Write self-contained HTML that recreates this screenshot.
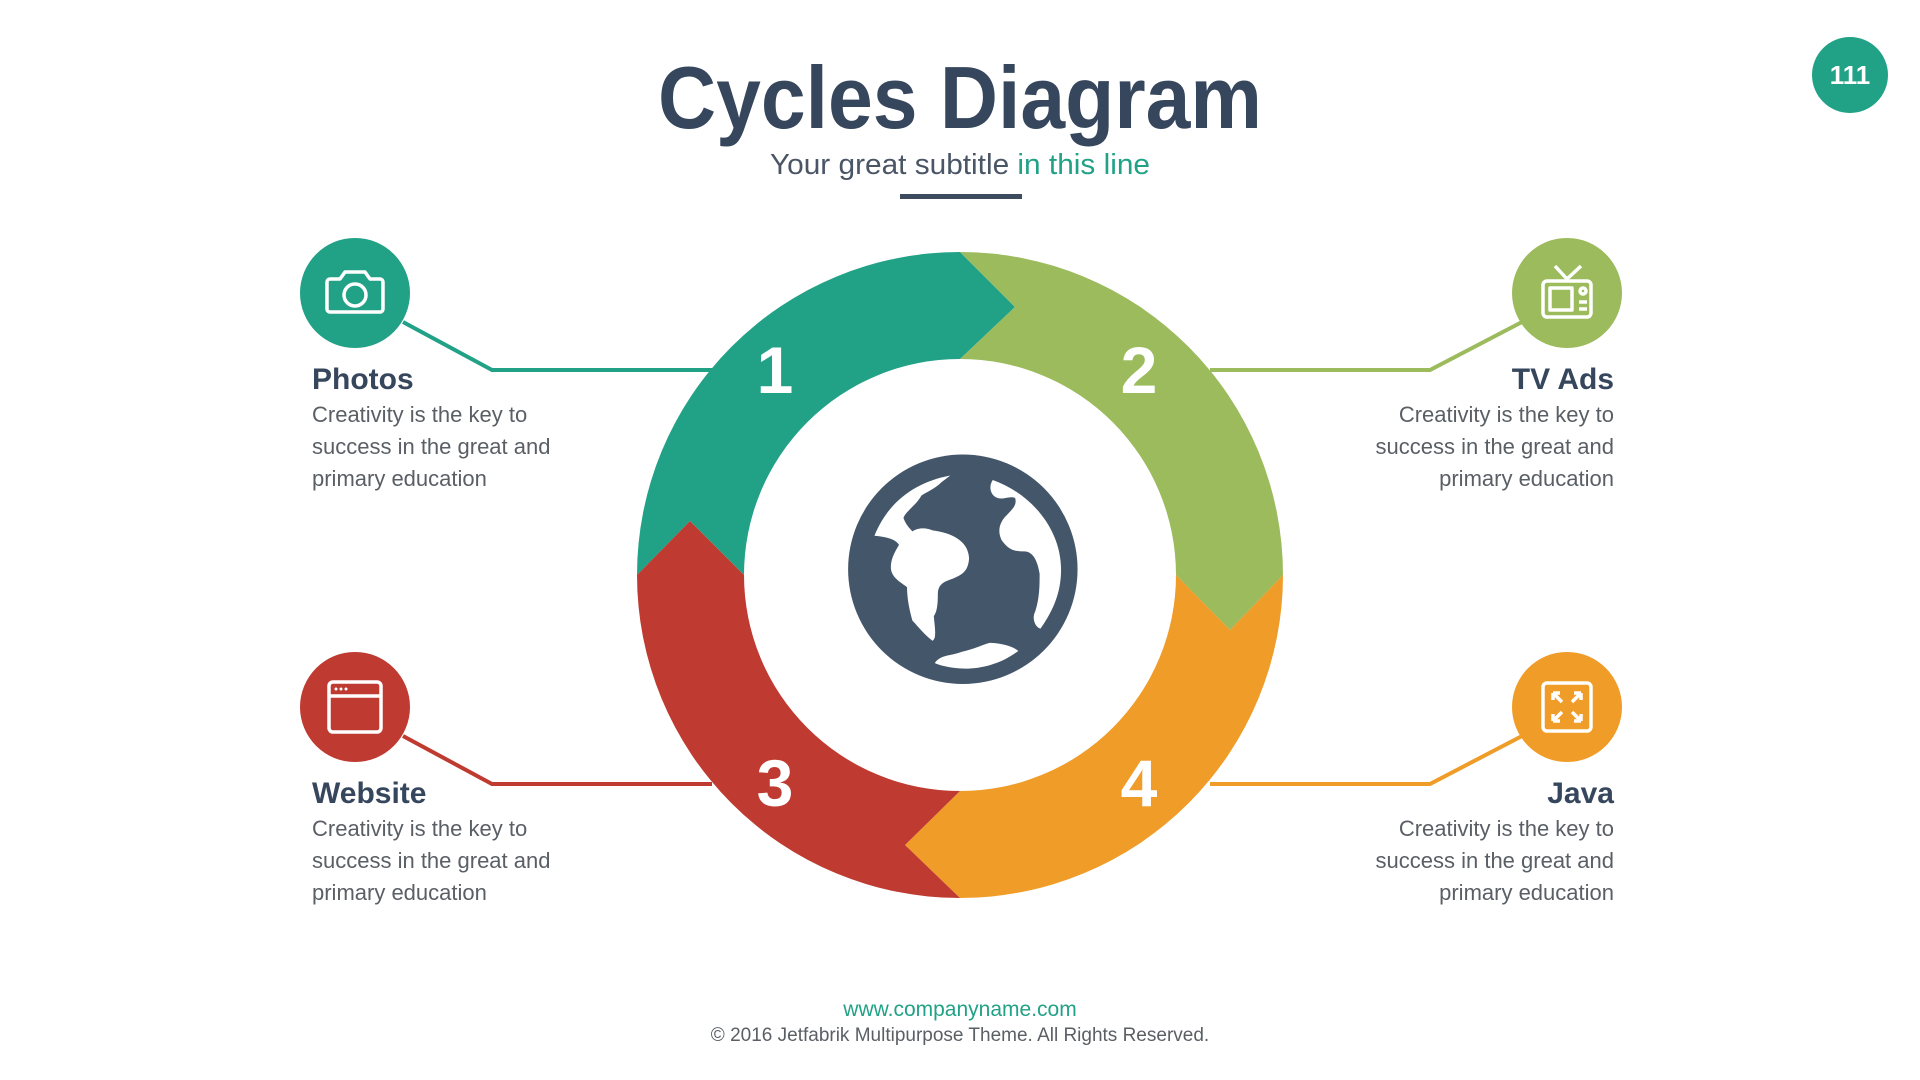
<!DOCTYPE html>
<html><head><meta charset="utf-8"><style>
html,body{margin:0;padding:0;background:#fff;width:1920px;height:1080px;overflow:hidden}
svg{display:block}
text{font-family:"Liberation Sans",sans-serif}
</style></head><body>
<svg width="1920" height="1080" viewBox="0 0 1920 1080" xmlns="http://www.w3.org/2000/svg">
<text x="960" y="128" text-anchor="middle" font-size="88" font-weight="bold" fill="#36465c" textLength="604" lengthAdjust="spacingAndGlyphs">Cycles Diagram</text>
<text x="960" y="174" text-anchor="middle" font-size="29" fill="#4a5566" textLength="380" lengthAdjust="spacingAndGlyphs">Your great subtitle <tspan fill="#21a286">in this line</tspan></text>
<rect x="900" y="194" width="122" height="5" fill="#3d4b5f"/>
<circle cx="1850" cy="75" r="38" fill="#21a286"/>
<text x="1850" y="84" text-anchor="middle" font-size="26" font-weight="bold" fill="#fff">111</text>

<g fill="none" stroke-width="4">
<polyline points="403,322 492,370 712,370" stroke="#21a286"/>
<polyline points="1210,370 1430,370 1522,322" stroke="#9bbb5c"/>
<polyline points="403,736 492,784 712,784" stroke="#bf3a30"/>
<polyline points="1210,784 1430,784 1522,736" stroke="#f09c28"/>
</g>

<path d="M637,575 A323,323 0 0 1 960,252 L1015,307 L960,359 A216,216 0 0 0 744,575 L690,521 Z" fill="#21a286"/>
<path d="M960,252 A323,323 0 0 1 1283,575 L1230,630 L1176,575 A216,216 0 0 0 960,359 L1015,307 Z" fill="#9bbb5c"/>
<path d="M1283,575 A323,323 0 0 1 960,898 L905,845 L960,791 A216,216 0 0 0 1176,575 L1230,630 Z" fill="#f09c28"/>
<path d="M960,898 A323,323 0 0 1 637,575 L690,521 L744,575 A216,216 0 0 0 960,791 L905,845 Z" fill="#bf3a30"/>
<g font-size="66" font-weight="bold" fill="#fff" text-anchor="middle">
<text x="775" y="393">1</text><text x="1139" y="393">2</text>
<text x="775" y="806">3</text><text x="1139" y="806">4</text>
</g>

<g transform="translate(620,230) scale(0.4464)">
<circle cx="768" cy="760" r="257" fill="#44566a"/>
<path fill="#fff" d="M570,685 C600,610 660,565 740,550 L720,565 C705,580 690,585 675,595 C665,615 640,630 635,645 C640,660 650,670 655,675 C670,665 690,668 700,673 C740,678 780,695 782,735 C780,770 760,775 735,785 C720,790 712,800 712,815 C712,840 710,855 703,865 C705,890 710,915 700,920 C685,910 665,885 655,875 C648,850 643,825 643,800 C630,790 610,780 607,760 C605,735 620,715 625,705 C615,690 590,687 570,685 Z"/>
<path fill="#fff" d="M835,560 C920,590 990,670 988,765 C987,820 965,860 942,893 C930,890 922,870 930,855 C940,825 940,795 940,770 C935,740 925,720 905,720 C880,720 870,715 855,695 C845,675 850,655 865,640 C880,625 890,615 885,600 C870,595 860,605 845,600 C830,595 825,575 835,560 Z"/>
<path fill="#fff" d="M705,970 C720,950 740,955 765,945 C790,940 810,930 828,925 C850,925 880,932 892,943 C850,975 800,985 760,982 C735,980 715,975 705,970 Z"/>
</g>

<circle cx="355" cy="293" r="55" fill="#21a286"/>
<circle cx="1567" cy="293" r="55" fill="#9bbb5c"/>
<circle cx="355" cy="707" r="55" fill="#bf3a30"/>
<circle cx="1567" cy="707" r="55" fill="#f09c28"/>
<g fill="none" stroke="#fff" stroke-width="3.5" stroke-linejoin="round">
<path d="M330,279 h10 l5,-7 h20 l5,7 h10 a3,3 0 0 1 3,3 v27 a3,3 0 0 1 -3,3 h-50 a3,3 0 0 1 -3,-3 v-27 a3,3 0 0 1 3,-3 z"/>
<circle cx="355" cy="295" r="11"/>
<rect x="1543" y="281" width="48" height="36" rx="4"/>
<rect x="1550" y="288" width="22" height="22"/>
<path d="M1555,266 l12,13 l14,-13"/>
<circle cx="1583" cy="291" r="3"/>
<path d="M1579,302 h8 M1579,309 h8"/>
<rect x="329" y="682" width="52" height="50" rx="4"/>
<path d="M329,696 h52"/>
<rect x="1543" y="683" width="48" height="48" rx="4"/>
<path d="M1553,693 l9,9 M1553,693 h7 M1553,693 v7 M1581,693 l-9,9 M1581,693 h-7 M1581,693 v7 M1553,721 l9,-9 M1553,721 h7 M1553,721 v-7 M1581,721 l-9,-9 M1581,721 h-7 M1581,721 v-7"/>
</g>
<g fill="#fff"><circle cx="336" cy="689" r="1.5"/><circle cx="341" cy="689" r="1.5"/><circle cx="346" cy="689" r="1.5"/></g>

<g font-size="30" font-weight="bold" fill="#36465c">
<text x="312" y="389">Photos</text>
<text x="1614" y="389" text-anchor="end">TV Ads</text>
<text x="312" y="803">Website</text>
<text x="1614" y="803" text-anchor="end">Java</text>
</g>
<g font-size="22" fill="#5a5f66">
<text x="312" y="422">Creativity is the key to</text>
<text x="312" y="454">success in the great and</text>
<text x="312" y="486">primary education</text>
<text x="312" y="836">Creativity is the key to</text>
<text x="312" y="868">success in the great and</text>
<text x="312" y="900">primary education</text>
<text x="1614" y="422" text-anchor="end">Creativity is the key to</text>
<text x="1614" y="454" text-anchor="end">success in the great and</text>
<text x="1614" y="486" text-anchor="end">primary education</text>
<text x="1614" y="836" text-anchor="end">Creativity is the key to</text>
<text x="1614" y="868" text-anchor="end">success in the great and</text>
<text x="1614" y="900" text-anchor="end">primary education</text>
</g>

<text x="960" y="1016" text-anchor="middle" font-size="21" fill="#21a286">www.companyname.com</text>
<text x="960" y="1041" text-anchor="middle" font-size="19" fill="#5a5f66">© 2016 Jetfabrik Multipurpose Theme. All Rights Reserved.</text>
</svg>
</body></html>
